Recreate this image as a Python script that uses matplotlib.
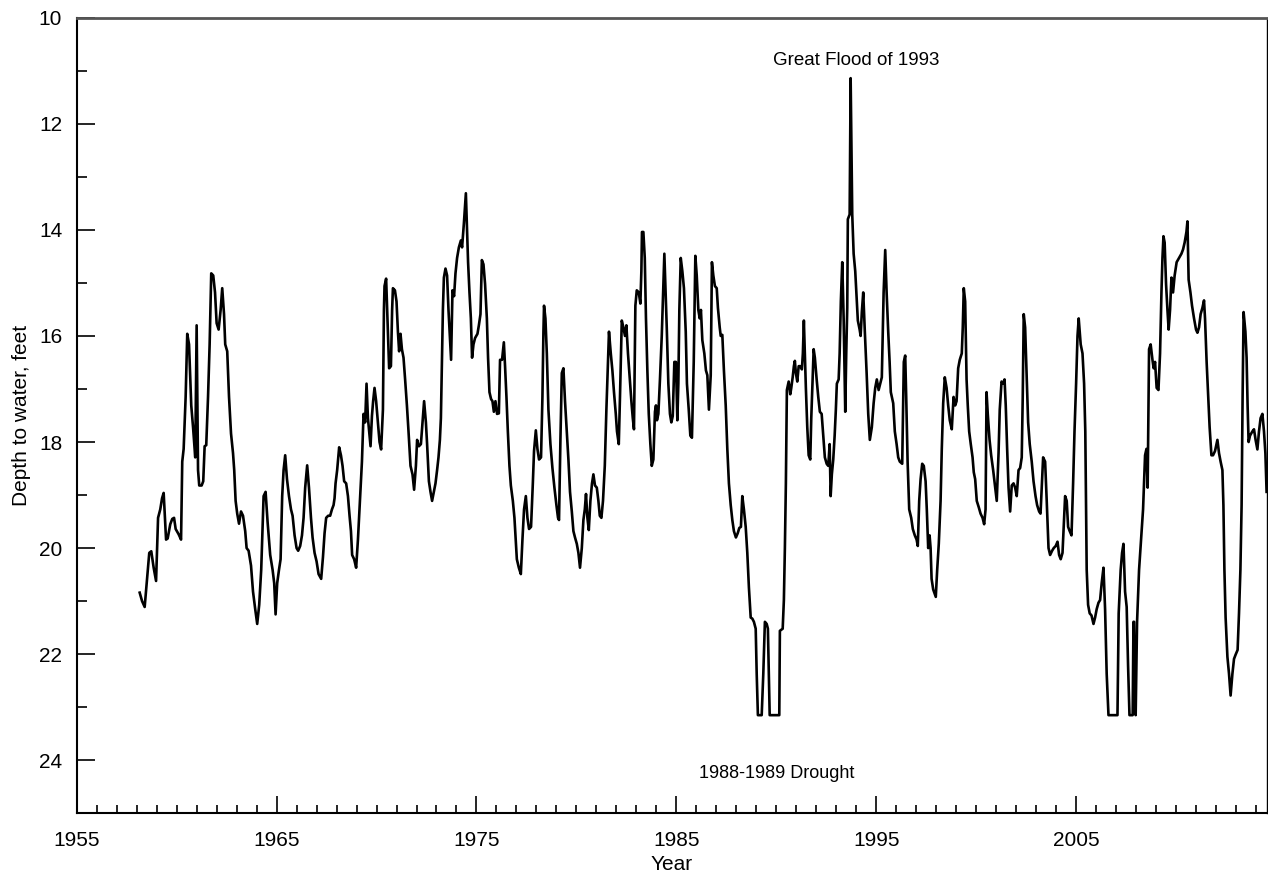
import numpy as np
import matplotlib
matplotlib.use('Agg')
import matplotlib.pyplot as plt

plt.rcParams['font.family'] = ['Liberation Sans', 'DejaVu Sans']

# water level readings: [decimal year, depth to water in feet]
wl_1958 = np.array([
    [1958.15, 20.84], [1958.27, 21.00], [1958.40, 21.11], [1958.52, 20.58], [1958.63, 20.09],
    [1958.73, 20.06], [1958.85, 20.37], [1958.97, 20.62], [1959.07, 19.43], [1959.18, 19.27],
    [1959.27, 19.06], [1959.35, 18.96], [1959.47, 19.84], [1959.55, 19.82], [1959.68, 19.55],
    [1959.78, 19.45], [1959.87, 19.43], [1959.95, 19.64], [1960.10, 19.74], [1960.22, 19.84],
    [1960.28, 18.37], [1960.35, 18.13], [1960.45, 17.15], [1960.53, 15.96], [1960.62, 16.16],
    [1960.73, 17.31], [1960.82, 17.72], [1960.93, 18.29], [1961.00, 15.80], [1961.07, 18.53],
    [1961.13, 18.82], [1961.25, 18.82], [1961.33, 18.74], [1961.40, 18.08], [1961.48, 18.06],
    [1961.57, 17.15], [1961.65, 16.16], [1961.73, 14.82], [1961.83, 14.86], [1961.92, 15.18],
    [1962.00, 15.76], [1962.10, 15.88], [1962.20, 15.51], [1962.28, 15.10], [1962.37, 15.59],
    [1962.43, 16.16], [1962.53, 16.29], [1962.62, 17.15], [1962.72, 17.84], [1962.82, 18.21],
    [1962.88, 18.53], [1962.95, 19.11], [1963.03, 19.35], [1963.12, 19.54], [1963.22, 19.31],
    [1963.32, 19.39], [1963.43, 19.68], [1963.50, 20.00], [1963.60, 20.05], [1963.72, 20.33],
    [1963.82, 20.82], [1963.93, 21.15], [1964.03, 21.43], [1964.13, 21.07], [1964.23, 20.41],
    [1964.35, 19.02], [1964.45, 18.94], [1964.55, 19.51], [1964.68, 20.13], [1964.80, 20.41],
    [1964.88, 20.66], [1964.95, 21.25], [1965.03, 20.66], [1965.12, 20.41], [1965.20, 20.21],
    [1965.28, 19.02], [1965.35, 18.53], [1965.43, 18.25], [1965.52, 18.70], [1965.62, 19.02],
    [1965.72, 19.27], [1965.80, 19.39], [1965.90, 19.76], [1966.00, 20.00], [1966.08, 20.05],
    [1966.18, 19.96], [1966.27, 19.76], [1966.35, 19.43], [1966.43, 18.86], [1966.53, 18.44],
    [1966.62, 18.86], [1966.72, 19.43], [1966.80, 19.80], [1966.90, 20.09], [1967.00, 20.25],
    [1967.10, 20.49], [1967.23, 20.58],
])

wl_1967 = np.array([
    [1967.32, 20.17], [1967.40, 19.72], [1967.48, 19.43], [1967.58, 19.39], [1967.68, 19.39],
    [1967.77, 19.27], [1967.85, 19.19], [1967.90, 19.06], [1967.95, 18.78], [1968.03, 18.53],
    [1968.13, 18.10], [1968.22, 18.25], [1968.30, 18.45], [1968.38, 18.74], [1968.48, 18.78],
    [1968.57, 19.02], [1968.65, 19.39], [1968.72, 19.68], [1968.78, 20.13], [1968.88, 20.21],
    [1968.98, 20.37], [1969.07, 19.84], [1969.17, 19.11], [1969.27, 18.37], [1969.35, 17.47],
    [1969.43, 17.63], [1969.50, 16.90], [1969.57, 17.55], [1969.70, 18.08], [1969.77, 17.51],
    [1969.83, 17.23], [1969.90, 16.98], [1969.98, 17.23], [1970.07, 17.63], [1970.15, 18.00],
    [1970.23, 18.14], [1970.32, 17.39], [1970.37, 15.51], [1970.40, 15.06], [1970.48, 14.92],
    [1970.57, 15.92], [1970.63, 16.61], [1970.72, 16.57], [1970.78, 15.51], [1970.82, 15.10],
    [1970.92, 15.14], [1971.00, 15.35], [1971.07, 15.92], [1971.13, 16.29], [1971.20, 15.96],
    [1971.27, 16.25], [1971.35, 16.41], [1971.43, 16.82], [1971.52, 17.31], [1971.60, 17.80],
    [1971.70, 18.45], [1971.80, 18.61], [1971.88, 18.90], [1971.97, 18.45], [1972.03, 17.96],
    [1972.12, 18.08], [1972.22, 18.04], [1972.30, 17.63], [1972.38, 17.23], [1972.47, 17.63],
    [1972.53, 18.04], [1972.62, 18.74], [1972.70, 18.94], [1972.78, 19.11], [1972.87, 18.94],
    [1972.95, 18.78], [1973.03, 18.53], [1973.10, 18.29], [1973.17, 17.96], [1973.22, 17.55],
    [1973.27, 16.49], [1973.32, 15.51], [1973.37, 14.90], [1973.45, 14.73], [1973.53, 14.86],
    [1973.60, 15.51], [1973.67, 16.00], [1973.73, 16.45], [1973.80, 15.14], [1973.88, 15.25],
    [1973.95, 14.82], [1974.03, 14.53], [1974.12, 14.33], [1974.22, 14.20], [1974.28, 14.33],
    [1974.37, 13.88], [1974.47, 13.31], [1974.52, 13.88], [1974.58, 14.61], [1974.65, 15.18],
    [1974.72, 15.67], [1974.78, 16.41], [1974.85, 16.16], [1974.93, 16.04], [1975.05, 15.96],
    [1975.12, 15.80], [1975.20, 15.59], [1975.27, 14.57], [1975.35, 14.65], [1975.43, 15.02],
    [1975.52, 15.67], [1975.58, 16.41], [1975.65, 17.06], [1975.73, 17.19], [1975.80, 17.23],
    [1975.87, 17.43], [1975.95, 17.23], [1976.03, 17.47], [1976.12, 17.46], [1976.18, 16.45],
    [1976.28, 16.45], [1976.37, 16.12], [1976.43, 16.57], [1976.50, 17.15], [1976.57, 17.80],
    [1976.65, 18.45], [1976.72, 18.82], [1976.82, 19.11], [1976.90, 19.43],
])

wl_1977 = np.array([
    [1977.02, 20.21], [1977.12, 20.37], [1977.22, 20.49], [1977.30, 19.84], [1977.38, 19.27],
    [1977.47, 19.02], [1977.55, 19.43], [1977.63, 19.64], [1977.73, 19.60], [1977.82, 18.78],
    [1977.88, 18.17], [1977.97, 17.78], [1978.05, 18.13], [1978.13, 18.33], [1978.23, 18.29],
    [1978.30, 17.15], [1978.35, 15.92], [1978.38, 15.43], [1978.45, 15.67], [1978.52, 16.33],
    [1978.60, 17.39], [1978.70, 18.04], [1978.80, 18.49], [1978.90, 18.86], [1979.00, 19.19],
    [1979.08, 19.43], [1979.13, 19.47], [1979.20, 17.96], [1979.27, 16.70], [1979.35, 16.61],
    [1979.43, 17.23], [1979.52, 17.80], [1979.60, 18.33], [1979.68, 18.94], [1979.77, 19.31],
    [1979.85, 19.68], [1979.93, 19.80], [1980.02, 19.92], [1980.10, 20.09], [1980.18, 20.37],
    [1980.27, 20.00], [1980.35, 19.47], [1980.42, 19.27], [1980.48, 18.98], [1980.55, 19.43],
    [1980.62, 19.66], [1980.70, 19.11], [1980.78, 18.78], [1980.85, 18.61], [1980.93, 18.82],
    [1981.02, 18.86], [1981.10, 19.11], [1981.17, 19.39], [1981.25, 19.43], [1981.33, 19.11],
    [1981.42, 18.45], [1981.50, 17.39], [1981.57, 16.57], [1981.63, 15.92], [1981.72, 16.33],
    [1981.80, 16.65], [1981.88, 17.06], [1981.97, 17.47], [1982.03, 17.80], [1982.12, 18.04],
    [1982.18, 17.15], [1982.27, 15.71], [1982.35, 15.84], [1982.43, 16.00], [1982.50, 15.80],
    [1982.58, 16.33], [1982.67, 16.82], [1982.75, 17.23], [1982.82, 17.55], [1982.88, 17.76],
    [1982.95, 15.43], [1983.02, 15.14], [1983.12, 15.18], [1983.20, 15.39], [1983.25, 14.78],
    [1983.28, 14.04], [1983.35, 14.04], [1983.42, 14.53], [1983.48, 15.67], [1983.55, 16.65],
    [1983.62, 17.47], [1983.70, 18.04], [1983.77, 18.45], [1983.85, 18.33], [1983.93, 17.43],
    [1983.98, 17.31], [1984.03, 17.59], [1984.10, 17.47], [1984.18, 16.82], [1984.27, 16.00],
    [1984.35, 15.06], [1984.40, 14.45], [1984.45, 15.02], [1984.52, 15.84], [1984.60, 16.90],
    [1984.68, 17.47], [1984.75, 17.63], [1984.82, 17.51], [1984.90, 16.49], [1984.98, 16.49],
    [1985.05, 17.59], [1985.10, 16.90], [1985.15, 15.51], [1985.22, 14.53], [1985.30, 14.78],
    [1985.38, 15.10], [1985.47, 15.92], [1985.53, 16.90], [1985.62, 17.39], [1985.70, 17.88],
    [1985.78, 17.92], [1985.87, 16.49], [1985.95, 14.49], [1986.02, 14.86], [1986.10, 15.51],
    [1986.17, 15.67], [1986.23, 15.51], [1986.30, 16.08], [1986.40, 16.33], [1986.48, 16.65],
])

wl_1986 = np.array([
    [1986.55, 16.74], [1986.63, 17.39], [1986.72, 16.74], [1986.78, 14.61], [1986.85, 14.86],
    [1986.93, 15.06], [1987.02, 15.10], [1987.08, 15.47], [1987.17, 15.84], [1987.22, 16.00],
    [1987.30, 15.98], [1987.38, 16.65], [1987.47, 17.31], [1987.55, 18.13], [1987.63, 18.78],
    [1987.72, 19.19], [1987.80, 19.47], [1987.88, 19.68], [1987.98, 19.80], [1988.07, 19.72],
    [1988.15, 19.62], [1988.23, 19.60], [1988.30, 19.02], [1988.38, 19.27], [1988.47, 19.60],
    [1988.55, 20.09], [1988.63, 20.74], [1988.72, 21.31], [1988.80, 21.33], [1988.88, 21.39],
    [1988.97, 21.52], [1989.02, 22.37], [1989.08, 23.15], [1989.27, 23.15], [1989.35, 22.37],
    [1989.43, 21.39], [1989.52, 21.43], [1989.58, 21.52], [1989.63, 22.46], [1989.67, 23.15],
    [1990.15, 23.15], [1990.18, 21.56], [1990.32, 21.52], [1990.38, 20.98], [1990.43, 20.00],
    [1990.48, 18.78], [1990.53, 17.02], [1990.62, 16.86], [1990.70, 17.10], [1990.75, 16.98],
    [1990.82, 16.78], [1990.88, 16.57], [1990.93, 16.47], [1990.98, 16.70], [1991.05, 16.86],
    [1991.12, 16.57], [1991.20, 16.57], [1991.28, 16.63], [1991.33, 16.33], [1991.38, 15.71],
    [1991.43, 16.33], [1991.48, 16.98], [1991.55, 17.72], [1991.62, 18.25], [1991.70, 18.33],
    [1991.75, 17.55], [1991.82, 16.82], [1991.87, 16.25], [1991.93, 16.41], [1992.02, 16.82],
    [1992.10, 17.15], [1992.18, 17.43], [1992.27, 17.47], [1992.35, 17.88], [1992.43, 18.29],
    [1992.52, 18.41], [1992.60, 18.45], [1992.67, 18.04], [1992.72, 19.02], [1992.78, 18.61],
    [1992.85, 18.33], [1992.92, 17.88], [1992.98, 17.39], [1993.03, 16.90], [1993.12, 16.82],
    [1993.17, 16.33], [1993.23, 15.35], [1993.30, 14.61], [1993.37, 15.67], [1993.45, 17.43],
    [1993.50, 16.33], [1993.55, 15.47], [1993.58, 13.80], [1993.67, 13.71], [1993.72, 11.14],
    [1993.80, 13.71], [1993.87, 14.45], [1993.95, 14.78], [1994.02, 15.27], [1994.08, 15.71],
    [1994.17, 15.88], [1994.22, 16.00], [1994.28, 15.55], [1994.35, 15.18], [1994.43, 15.92],
    [1994.52, 16.70], [1994.60, 17.47], [1994.68, 17.96], [1994.78, 17.72], [1994.87, 17.27],
    [1994.95, 16.98], [1995.03, 16.82], [1995.12, 17.02], [1995.20, 16.90], [1995.28, 16.78],
    [1995.37, 15.18], [1995.45, 14.38], [1995.52, 15.18], [1995.60, 15.92], [1995.67, 16.49],
    [1995.73, 17.06], [1995.85, 17.27],
])

wl_1996 = np.array([
    [1995.93, 17.80], [1996.02, 18.04], [1996.10, 18.29], [1996.18, 18.37], [1996.30, 18.41],
    [1996.38, 16.49], [1996.45, 16.37], [1996.50, 17.15], [1996.57, 18.37], [1996.65, 19.27],
    [1996.75, 19.43], [1996.83, 19.64], [1996.93, 19.76], [1997.02, 19.84], [1997.08, 19.96],
    [1997.15, 19.11], [1997.22, 18.70], [1997.30, 18.41], [1997.38, 18.45], [1997.47, 18.74],
    [1997.53, 19.27], [1997.60, 20.00], [1997.67, 19.76], [1997.72, 20.00], [1997.77, 20.58],
    [1997.85, 20.78], [1997.98, 20.92], [1998.05, 20.41], [1998.13, 19.92], [1998.22, 19.11],
    [1998.28, 18.13], [1998.35, 17.27], [1998.43, 16.78], [1998.52, 16.98], [1998.60, 17.31],
    [1998.68, 17.59], [1998.78, 17.76], [1998.87, 17.15], [1998.95, 17.31], [1999.02, 17.23],
    [1999.10, 16.61], [1999.18, 16.45], [1999.28, 16.33], [1999.33, 15.84], [1999.38, 15.10],
    [1999.45, 15.35], [1999.52, 16.82], [1999.58, 17.31], [1999.65, 17.80], [1999.73, 18.04],
    [1999.82, 18.29], [1999.88, 18.57], [1999.95, 18.70], [2000.03, 19.11], [2000.13, 19.23],
    [2000.22, 19.35], [2000.32, 19.43], [2000.40, 19.55], [2000.47, 19.27], [2000.52, 17.06],
    [2000.58, 17.47], [2000.67, 17.96], [2000.75, 18.25], [2000.85, 18.53], [2000.95, 18.86],
    [2001.03, 19.11], [2001.12, 18.21], [2001.18, 17.39], [2001.27, 16.86], [2001.35, 16.90],
    [2001.42, 16.82], [2001.48, 17.31], [2001.55, 18.13], [2001.62, 18.86], [2001.70, 19.31],
    [2001.78, 18.82], [2001.87, 18.78], [2001.95, 18.86], [2002.03, 19.02], [2002.12, 18.53],
    [2002.20, 18.49], [2002.28, 18.29], [2002.33, 17.15], [2002.38, 15.59], [2002.45, 15.84],
    [2002.53, 16.82], [2002.60, 17.63], [2002.68, 18.04], [2002.78, 18.37], [2002.87, 18.74],
    [2002.97, 19.02], [2003.05, 19.19], [2003.15, 19.31], [2003.22, 19.35], [2003.28, 18.86],
    [2003.35, 18.29], [2003.45, 18.37], [2003.53, 19.11], [2003.62, 20.00], [2003.70, 20.13],
    [2003.80, 20.05], [2003.88, 20.00], [2003.98, 19.96], [2004.07, 19.88], [2004.15, 20.13],
    [2004.23, 20.21], [2004.32, 20.09], [2004.38, 19.60], [2004.45, 19.02], [2004.53, 19.11],
    [2004.60, 19.60], [2004.68, 19.68], [2004.77, 19.76], [2004.85, 18.78], [2004.92, 17.80],
    [2005.00, 16.90], [2005.07, 16.00], [2005.13, 15.67], [2005.23, 16.16], [2005.32, 16.33],
    [2005.40, 16.90], [2005.46, 17.80],
])

wl_2005 = np.array([
    [2005.53, 20.41], [2005.60, 21.07], [2005.68, 21.23], [2005.77, 21.27], [2005.87, 21.43],
    [2005.95, 21.31], [2006.03, 21.15], [2006.12, 21.03], [2006.20, 20.98], [2006.28, 20.66],
    [2006.37, 20.37], [2006.45, 21.15], [2006.53, 22.37], [2006.62, 23.15], [2007.07, 23.15],
    [2007.13, 21.23], [2007.23, 20.41], [2007.30, 20.09], [2007.37, 19.92], [2007.45, 20.82],
    [2007.53, 21.11], [2007.60, 22.21], [2007.67, 23.15], [2007.83, 23.15], [2007.87, 21.39],
    [2007.90, 21.39], [2007.93, 22.46], [2007.98, 23.15], [2008.05, 21.39], [2008.15, 20.41],
    [2008.25, 19.84], [2008.35, 19.27], [2008.45, 18.25], [2008.52, 18.13], [2008.58, 18.86],
    [2008.65, 16.25], [2008.73, 16.16], [2008.82, 16.45], [2008.88, 16.61], [2008.95, 16.49],
    [2009.03, 16.98], [2009.12, 17.02], [2009.20, 16.33], [2009.27, 15.18], [2009.32, 14.53],
    [2009.37, 14.12], [2009.43, 14.24], [2009.50, 15.02], [2009.57, 15.51], [2009.63, 15.88],
    [2009.70, 15.51], [2009.77, 14.90], [2009.85, 15.18], [2009.93, 14.86], [2010.03, 14.61],
    [2010.15, 14.53], [2010.27, 14.45], [2010.35, 14.37], [2010.43, 14.24], [2010.52, 14.04],
    [2010.57, 13.84], [2010.63, 14.94], [2010.72, 15.18], [2010.80, 15.43], [2010.90, 15.67],
    [2011.00, 15.88], [2011.07, 15.94], [2011.15, 15.84], [2011.23, 15.59], [2011.32, 15.47],
    [2011.40, 15.33], [2011.45, 15.67], [2011.53, 16.49], [2011.60, 17.06], [2011.68, 17.72],
    [2011.77, 18.25], [2011.85, 18.25], [2011.95, 18.17], [2012.07, 17.96], [2012.15, 18.21],
    [2012.23, 18.37], [2012.32, 18.53], [2012.37, 19.19], [2012.42, 20.41], [2012.48, 21.31],
    [2012.57, 22.05], [2012.65, 22.37], [2012.73, 22.78], [2012.82, 22.37], [2012.90, 22.09],
    [2012.98, 22.01], [2013.08, 21.92], [2013.15, 21.23], [2013.22, 20.41], [2013.28, 19.19],
    [2013.33, 17.15], [2013.38, 15.55], [2013.47, 15.92], [2013.53, 16.41], [2013.58, 17.31],
    [2013.63, 18.00], [2013.70, 17.88], [2013.82, 17.80], [2013.90, 17.76], [2013.98, 17.96],
    [2014.07, 18.14], [2014.15, 17.80], [2014.23, 17.55], [2014.32, 17.47], [2014.40, 17.80],
    [2014.47, 18.21], [2014.53, 18.94],
])

records = np.vstack([wl_1958, wl_1967, wl_1977, wl_1986, wl_1996, wl_2005])
year = records[:, 0]
depth = records[:, 1]

fig = plt.figure(figsize=(12.68, 8.76), dpi=100)
ax = fig.add_axes([0.0605, 0.0716, 0.9387, 0.9082])

ax.plot(year, depth, color='black', linewidth=1.9)

ax.set_xlim(1955, 2014.55)
ax.set_ylim(25, 10)

ax.set_xticks(np.arange(1955, 2010, 10))
ax.set_xticks(np.arange(1956, 2015, 1), minor=True)
ax.set_yticks(np.arange(10, 25, 2))
ax.set_yticks(np.arange(11, 26, 2), minor=True)

ax.tick_params(axis='x', which='major', direction='in', length=12, width=1.2, pad=13, labelsize=15)
ax.tick_params(axis='x', which='minor', direction='in', length=6, width=1.2)
ax.tick_params(axis='y', which='major', direction='in', length=13, width=1.2, pad=10.5, labelsize=15)
ax.tick_params(axis='y', which='minor', direction='in', length=7, width=1.2)

ax.spines['left'].set_linewidth(1.5)
ax.spines['bottom'].set_linewidth(1.5)
ax.spines['top'].set_color('#555555')
ax.spines['top'].set_linewidth(2)
ax.spines['right'].set_linewidth(1)

ax.set_xlabel('Year', fontsize=15)
ax.xaxis.set_label_coords(0.5, -0.052)
ax.set_ylabel('Depth to water, feet', fontsize=15)
ax.yaxis.set_label_coords(-0.038, 0.5)

ax.text(1994.0, 10.8, 'Great Flood of 1993', ha='center', va='center', fontsize=13.5)
ax.text(1990.0, 24.25, '1988-1989 Drought', ha='center', va='center', fontsize=13)

fig.savefig('out.png', dpi=100)
